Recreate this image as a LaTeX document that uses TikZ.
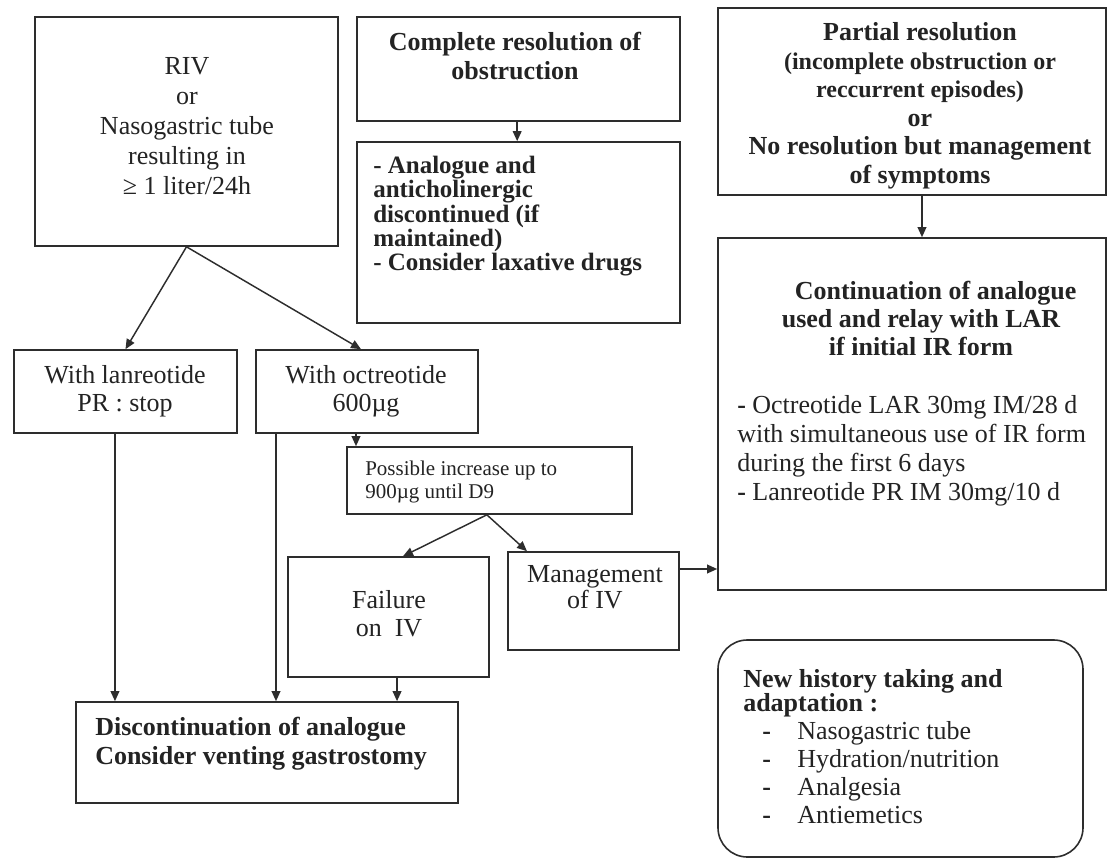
\documentclass[tikz,border=0pt]{standalone}
\usepackage{fontspec}
\setmainfont{Liberation Serif}
\usepackage{tikz}
\usepackage{xcolor}
\usetikzlibrary{arrows.meta}

\definecolor{linegray}{RGB}{45,45,45}
\definecolor{txtgray}{RGB}{35,35,35}

\tikzset{
  box/.style={draw=linegray, line width=1.2pt, inner sep=0pt},
  arr/.style={draw=linegray, line width=1.1pt, -{Triangle[length=7.5pt,width=6.5pt]}},
  txt/.style={inner sep=0pt, text=txtgray},
}

\begin{document}
\begin{tikzpicture}[x=0.75pt,y=0.75pt,yscale=-1,xscale=1]
%set diagram to the page size of the reference
\useasboundingbox (0,0) rectangle (1108,860);

%Boxes
\node [box, minimum width=227.25pt, minimum height=171.75pt] (riv) at (186.5,131.5) {};
\node [box, minimum width=242.25pt, minimum height=78pt] (compl) at (518.5,69) {};
\node [box, minimum width=242.25pt, minimum height=135.75pt] (anal) at (518.5,232.5) {};
\node [box, minimum width=291pt, minimum height=140.25pt] (partial) at (912,101.5) {};
\node [box, minimum width=291pt, minimum height=264pt] (contin) at (912,414) {};
\node [box, minimum width=167.25pt, minimum height=62.25pt] (lanr) at (125.5,391.5) {};
\node [box, minimum width=166.5pt, minimum height=62.25pt] (octr) at (367,391.5) {};
\node [box, minimum width=213.75pt, minimum height=50.25pt] (incr) at (489.5,480.5) {};
\node [box, minimum width=150.75pt, minimum height=90pt] (fail) at (388.5,617) {};
\node [box, minimum width=128.25pt, minimum height=73.5pt] (mgmt) at (593.5,601) {};
\node [box, minimum width=286.5pt, minimum height=75.75pt] (disc) at (267,752.5) {};
\node [box, rounded corners=22pt, minimum width=273.75pt, minimum height=162.75pt] (hist) at (900.5,748.5) {};

% Text Node
\node [txt, anchor=north, align=center, font=\fontsize{19.5}{22.5}\selectfont] (riv-t) at (187,57) {RIV\\or\\Nasogastric tube\\resulting in\\≥ 1 liter/24h};
% Text Node
\node [txt, anchor=north, align=center, font=\bfseries\fontsize{19.5}{21.75}\selectfont] (compl-t) at (515,31.5) {Complete resolution of\\obstruction};
% Text Node
\node [txt, anchor=north west, align=left, font=\bfseries\fontsize{18.75}{17}\selectfont] (anal-t) at (373,156) {- Analogue and\\anticholinergic\\discontinued (if\\maintained)\\- Consider laxative drugs};
% Text Node
\node [txt, anchor=north, align=center, font=\bfseries\fontsize{19.5}{21.4}\selectfont] (partial-t) at (920,22.5) {Partial resolution\\{\fontsize{18}{21.4}\selectfont (incomplete obstruction or}\\{\fontsize{18}{21.4}\selectfont reccurrent episodes)}\\or\\No resolution but management\\of symptoms};
% Text Node
\node [txt, anchor=north, align=center, font=\bfseries\fontsize{19.5}{21}\selectfont] (contin-t) at (921,281) {\hspace*{22pt}Continuation of analogue\\used and relay with LAR\\if initial IR form};
% Text Node
\node [txt, anchor=north west, align=left, font=\fontsize{19.5}{21.75}\selectfont] (contin-l) at (737,395) {\textbf{-} Octreotide LAR 30mg IM/28 d\\with simultaneous use of IR form\\during the first 6 days\\\textbf{-} Lanreotide PR IM 30mg/10 d};
% Text Node
\node [txt, anchor=north, align=center, font=\fontsize{19.5}{21}\selectfont] (lanr-t) at (125,365) {With lanreotide\\PR : stop};
% Text Node
\node [txt, anchor=north, align=center, font=\fontsize{19.5}{21}\selectfont] (octr-t) at (366,365) {With octreotide\\600µg};
% Text Node
\node [txt, anchor=north west, align=left, font=\fontsize{15.75}{17.25}\selectfont] (incr-t) at (365,461) {Possible increase up to\\900µg until D9};
% Text Node
\node [txt, anchor=north, align=center, font=\fontsize{19.5}{21}\selectfont] (fail-t) at (389,590.5) {Failure\\on\ \ IV};
% Text Node
\node [txt, anchor=north, align=center, font=\fontsize{19.5}{19.5}\selectfont] (mgmt-t) at (595,565.5) {Management\\of IV};
% Text Node
\node [txt, anchor=north west, align=left, font=\bfseries\fontsize{19.5}{21.75}\selectfont] (disc-t) at (95,717) {Discontinuation of analogue\\Consider venting gastrostomy};
% Text Node
\node [txt, anchor=north west, align=left, font=\fontsize{19.5}{21}\selectfont] (hist-t) at (743,669) {\textbf{New history taking and}\\[-2.5pt]\textbf{adaptation :}\\
\hspace*{14.25pt}\makebox[26.25pt][l]{\textbf{-}}Nasogastric tube\\
\hspace*{14.25pt}\makebox[26.25pt][l]{\textbf{-}}Hydration/nutrition\\
\hspace*{14.25pt}\makebox[26.25pt][l]{\textbf{-}}Analgesia\\
\hspace*{14.25pt}\makebox[26.25pt][l]{\textbf{-}}Antiemetics};

%Arrows
\draw [arr] (riv.south) -- (lanr.north);
\draw [arr] (riv.south) -- ([xshift=-4.5pt]octr.north);
\draw [arr] ([xshift=-1pt]compl.south) -- ([xshift=-1pt]anal.north);
\draw [arr] ([xshift=7.5pt]partial.south) -- ([xshift=7.5pt]contin.north);
\coordinate (lanr-out) at ([xshift=-7.9pt]lanr.south);
\draw [arr] (lanr-out) -- (lanr-out |- disc.north);
\coordinate (octr-out) at ([xshift=-68.25pt]octr.south);
\draw [arr] (octr-out) -- (octr-out |- disc.north);
\coordinate (octr-inc) at ([xshift=-8.25pt]octr.south);
\draw [arr] (octr-inc) -- (octr-inc |- incr.north);
\draw [arr] ([xshift=-2pt]incr.south) -- ([xshift=10.9pt]fail.north);
\draw [arr] ([xshift=-2pt]incr.south) -- ([xshift=-49.9pt]mgmt.north);
\coordinate (mgmt-out) at ([yshift=-24pt]mgmt.east);
\draw [arr] (mgmt-out) -- (mgmt-out -| contin.west);
\coordinate (fail-out) at ([xshift=6.4pt]fail.south);
\draw [arr] (fail-out) -- (fail-out |- disc.north);
\end{tikzpicture}
\end{document}
